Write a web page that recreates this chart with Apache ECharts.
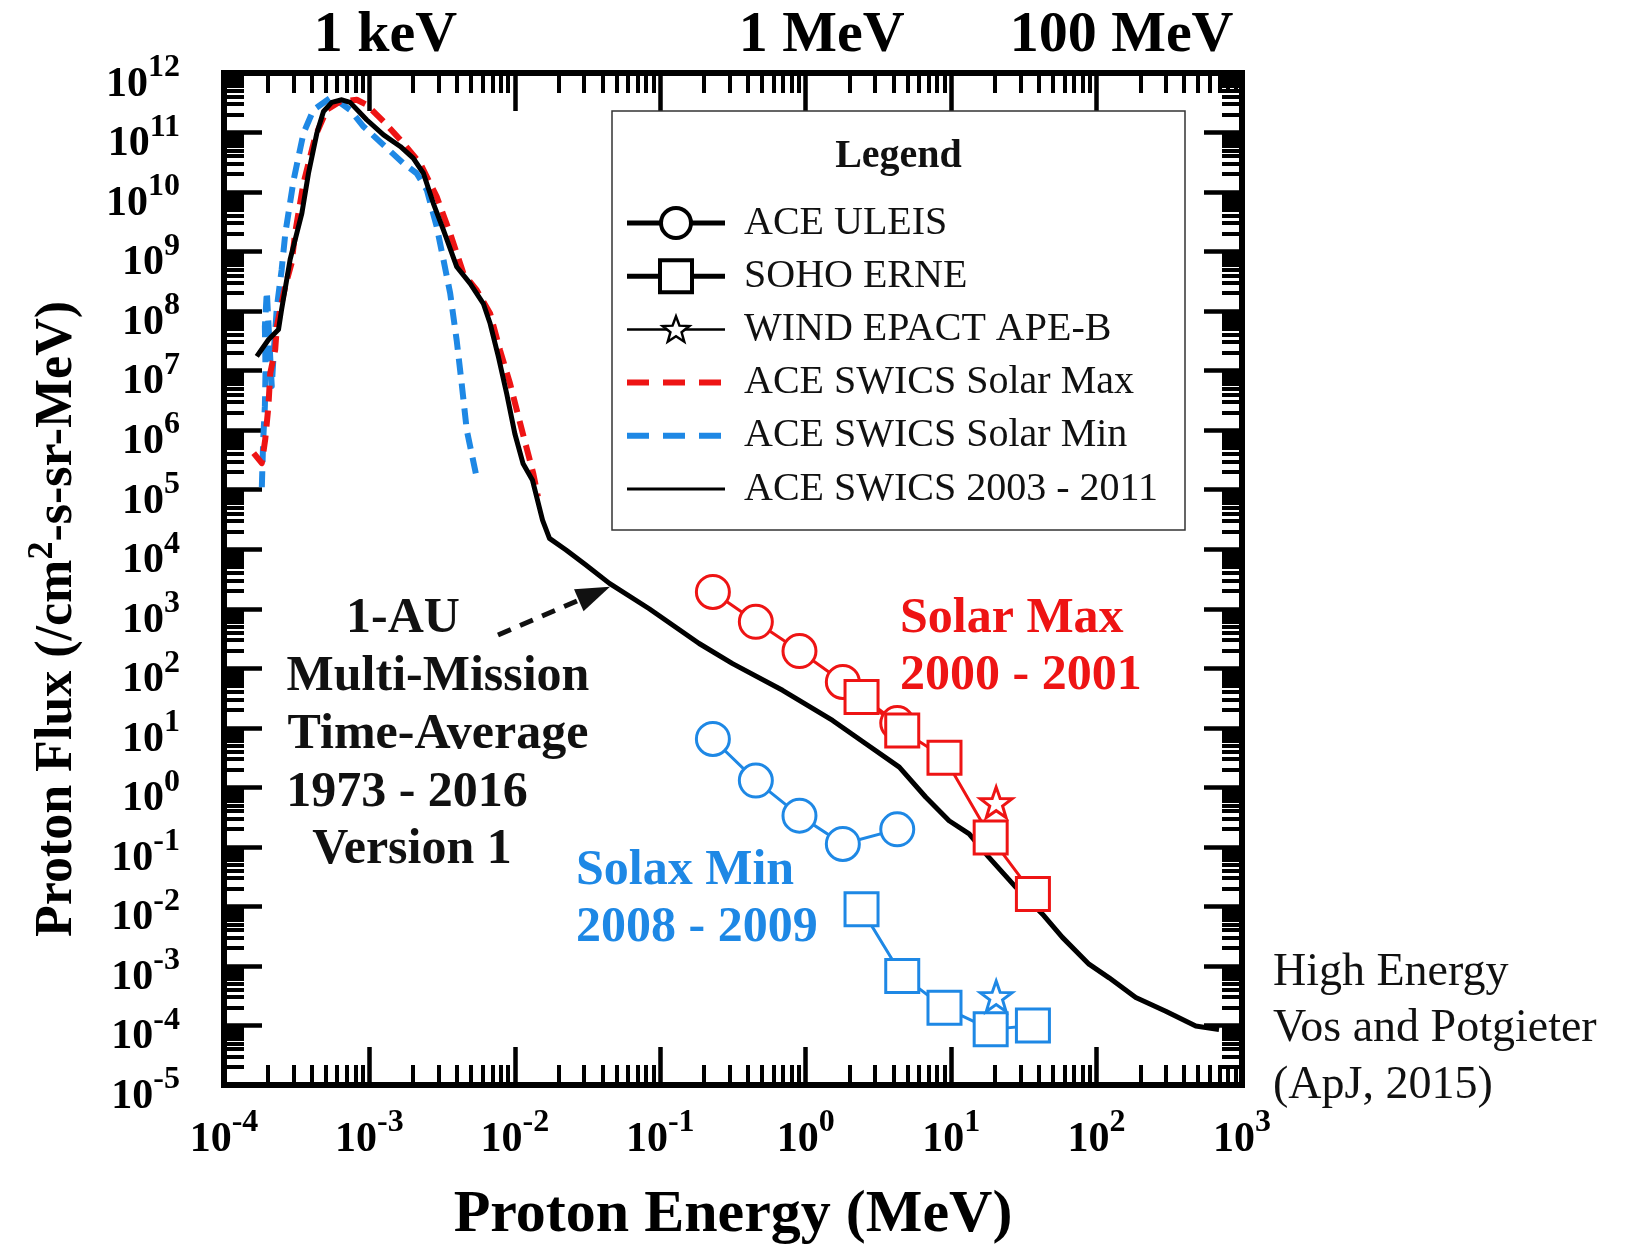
<!DOCTYPE html>
<html>
<head>
<meta charset="utf-8">
<script src="https://cdn.jsdelivr.net/npm/echarts@6/dist/echarts.min.js"></script>
<style>html,body{margin:0;padding:0;background:#fff}#c{width:1625px;height:1246px}</style>
</head>
<body>
<div id="c"></div>
<script>
// ---------------- data ----------------
// ACE SWICS 2003 - 2011 (black solid)
const swicsAvgE = [1.68e-4,2.02e-4,2.37e-4,2.49e-4,2.70e-4,2.85e-4,3.43e-4,3.81e-4,4.35e-4,4.83e-4,5.51e-4,6.46e-4,7.36e-4,9.57e-4,1.25e-3,1.63e-3,2.00e-3,2.35e-3,2.75e-3,3.23e-3,3.98e-3,4.92e-3,6.07e-3,6.76e-3,7.71e-3,8.79e-3,1.00e-2,1.14e-2,1.32e-2,1.55e-2,1.73e-2,2.25e-2,3.08e-2,4.47e-2,8.39e-2,0.185,0.314,0.693,1.53,2.59,4.40,6.70,9.68,13.3,18.2,27.9,42.5,58.2,88.7,122,186,299,481,695];
const swicsAvgF = [1.74e7,3.31e7,4.90e7,1.07e8,3.39e8,7.41e8,4.40e9,2.07e10,9.77e10,2.26e11,3.21e11,3.55e11,3.21e11,1.64e11,9.12e10,5.83e10,3.71e10,2.07e10,6.47e9,2.30e9,5.57e8,2.92e8,1.34e8,6.18e7,1.70e7,4.10e6,8.71e5,2.72e5,1.46e5,3.09e4,1.52e4,9.70e3,5.42e3,2.67e3,1.00e3,2.61e2,1.20e2,42.7,13.3,5.40,2.19,0.682,0.275,0.166,0.0665,0.0209,7.41e-3,3.02e-3,1.07e-3,6.31e-4,2.95e-4,1.74e-4,9.77e-5,8.51e-5];
// ACE SWICS Solar Max (red dashed)
const swicsMaxE = [1.60e-4,1.82e-4,1.92e-4,2.02e-4,2.08e-4,2.25e-4,2.31e-4,2.49e-4,2.64e-4,2.92e-4,3.08e-4,3.52e-4,4.24e-4,5.09e-4,6.30e-4,8.18e-4,9.57e-4,1.25e-3,1.71e-3,2.23e-3,2.90e-3,3.59e-3,4.43e-3,5.47e-3,6.76e-3,7.91e-3,9.27e-3,1.09e-2,1.34e-2,1.44e-2];
const swicsMaxF = [4.12e5,2.79e5,6.92e5,2.51e6,9.12e6,2.26e7,5.57e7,1.38e8,2.63e8,6.50e8,2.02e9,1.41e10,8.59e10,2.42e11,3.33e11,3.55e11,2.93e11,1.54e11,6.64e10,3.05e10,8.39e9,2.02e9,4.30e8,2.25e8,9.12e7,2.20e7,6.04e6,1.28e6,1.85e5,7.66e4];
// ACE SWICS Solar Min (blue dashed)
const swicsMinE = [1.82e-4,1.86e-4,1.91e-4,1.93e-4,1.91e-4,1.97e-4,2.04e-4,2.13e-4,2.21e-4,2.31e-4,2.49e-4,2.64e-4,3.01e-4,3.52e-4,4.12e-4,5.51e-4,7.36e-4,9.10e-4,1.25e-3,1.71e-3,2.11e-3,2.48e-3,2.90e-3,3.23e-3,3.59e-3,3.98e-3,4.31e-3,4.67e-3,5.46e-3];
const swicsMinF = [1.10e5,6.76e5,2.51e6,1.0e7,5.50e7,2.14e8,3.98e7,5.50e6,2.51e7,1.17e8,4.90e8,2.02e9,1.58e10,9.77e10,2.40e11,3.98e11,2.40e11,1.26e11,6.17e10,3.05e10,2.07e10,1.09e10,2.63e9,7.24e8,2.00e8,3.24e7,6.03e6,1.0e6,1.62e5];
// ACE ULEIS (circles)
const uleisE = [0.23, 0.454, 0.906, 1.8, 4.26];
const uleisMaxF = [1920, 603, 195, 59, 12];
const uleisMinF = [6.5, 1.3, 0.335, 0.112, 0.197];
// SOHO ERNE (squares)
const erneE = [2.42, 4.61, 9.0, 18.7, 36.5];
const erneMaxF = [32.9, 9.0, 3.14, 0.144, 0.0162];
const erneMinF = [0.009, 6.8e-4, 1.99e-4, 8.6e-5, 1.0e-4];
// WIND EPACT APE-B (stars)
const epactE = [20.4];
const epactMaxF = [0.56];
const epactMinF = [3.1e-4];
// axis ranges and top-axis energy labels
const xRange = [1e-4, 1e3];
const yRange = [1e-5, 1e12];
const topLabelExp = [-3, 0, 2];
const topLabelText = ['1 keV', '1 MeV', '100 MeV'];
// legend entries
const legendNames = ['ACE ULEIS', 'SOHO ERNE', 'WIND EPACT APE-B', 'ACE SWICS Solar Max', 'ACE SWICS Solar Min', 'ACE SWICS 2003 - 2011'];

// ---------------- styling ----------------
const FONT = '"Liberation Serif", "Times New Roman", serif';
const RED = '#EE1414';
const BLUE = '#1E88E5';
const BLACK = '#000';

function pairs(xs, ys) { return xs.map((x, i) => [x, ys[i]]); }
function expOf(v) { return Math.round(Math.log10(v)); }
function starPoints(cx, cy, R, ratio) {
  const pts = [];
  for (let i = 0; i < 10; i++) {
    const r = i % 2 ? R * ratio : R;
    const a = -Math.PI / 2 + i * Math.PI / 5;
    pts.push([cx + r * Math.cos(a), cy + r * Math.sin(a)]);
  }
  return pts;
}
const starPath = 'path://M' + starPoints(50, 50, 50, 0.4).map(p => p[0].toFixed(2) + ',' + p[1].toFixed(2)).join('L') + 'Z';

// "10" with a raised exponent. Tokens get a tiny height/lineHeight plus padding so the
// label box stays small (no min/max overlap hiding) while the glyphs are shifted.
const tickRich = {
  b: { fontSize: 42, height: 2, lineHeight: 2, fontWeight: 'bold', fontFamily: FONT, color: '#000', padding: [29, 0, 5, 0] },
  s: { fontSize: 32, height: 2, lineHeight: 2, fontWeight: 'bold', fontFamily: FONT, color: '#000', padding: [12, 0, 22, 0] }
};

function frameAxis(pos, range, extra) {
  const base = {
    type: 'log', logBase: 10, min: range[0], max: range[1], interval: 1,
    position: pos,
    axisLine: { show: true, onZero: false, lineStyle: { color: BLACK, width: 6, cap: 'square' } },
    axisTick: { show: true, inside: true, length: 38, lineStyle: { color: BLACK, width: 4.5 } },
    minorTick: { show: true, splitNumber: 9, length: 20, lineStyle: { color: BLACK, width: 4 } },
    splitLine: { show: false },
    minorSplitLine: { show: false },
    axisLabel: { show: false },
    axisPointer: { show: false }
  };
  return Object.assign(base, extra || {});
}

const xAxes = [
  frameAxis('bottom', xRange, {
    axisLabel: {
      show: true, margin: 42, showMinLabel: true, showMaxLabel: true, hideOverlap: false,
      formatter: v => '{b|10}{s|' + expOf(v) + '}',
      rich: tickRich
    },
    name: 'Proton Energy (MeV)', nameLocation: 'middle', nameGap: 100,
    nameTextStyle: { fontSize: 60, fontWeight: 'bold', fontFamily: FONT, color: '#000' }
  }),
  frameAxis('top', xRange, {
    axisLabel: {
      show: true, margin: 8, showMinLabel: true, showMaxLabel: true,
      formatter: v => {
        const i = topLabelExp.indexOf(expOf(v));
        if (i < 0) return '';
        return (i === 2 ? '{c|' : '{k|') + topLabelText[i] + '}';
      },
      rich: {
        k: { fontSize: 58, fontWeight: 'bold', fontFamily: FONT, color: '#000', padding: [0, 0, 0, 32] },
        c: { fontSize: 58, fontWeight: 'bold', fontFamily: FONT, color: '#000', padding: [0, 0, 0, 50] }
      }
    }
  })
];

const yAxes = [
  frameAxis('left', yRange, {
    axisLabel: {
      show: true, margin: 44, showMinLabel: true, showMaxLabel: true, hideOverlap: false,
      formatter: v => '{b|10}{s|' + expOf(v) + '}',
      rich: tickRich
    },
    name: '{t|Proton Flux (/cm}{s|2}{t|-s-sr-MeV)}',
    nameLocation: 'middle', nameRotate: 90, nameGap: 140,
    nameTextStyle: {
      padding: [0, 80, 0, 0],
      rich: {
        t: { fontSize: 52, lineHeight: 52, fontWeight: 'bold', fontFamily: FONT, color: '#000' },
        s: { fontSize: 36, lineHeight: 36, fontWeight: 'bold', fontFamily: FONT, color: '#000', padding: [0, 0, 30, 0] }
      }
    }
  }),
  frameAxis('right', yRange)
];

function markerSeries(name, E, F, color, symbol, size, withLine) {
  return {
    type: withLine ? 'line' : 'scatter',
    name: name,
    data: pairs(E, F),
    symbol: symbol,
    symbolSize: size,
    symbolKeepAspect: true,
    showSymbol: true,
    itemStyle: { color: '#fff', borderColor: color, borderWidth: 3, opacity: 1 },
    lineStyle: { color: color, width: 3 },
    emphasis: { disabled: true },
    silent: true,
    z: 5
  };
}

function curveSeries(name, E, F, color, width, dash) {
  return {
    type: 'line', name: name, data: pairs(E, F),
    symbol: 'none', showSymbol: false, smooth: false,
    lineStyle: { color: color, width: width, type: dash || 'solid', cap: 'butt', join: 'round' },
    emphasis: { disabled: true }, silent: true, z: 3
  };
}

const series = [
  curveSeries('ACE SWICS Solar Min', swicsMinE, swicsMinF, BLUE, 6, [16, 9]),
  curveSeries('ACE SWICS Solar Max', swicsMaxE, swicsMaxF, RED, 6, [16, 9]),
  curveSeries('ACE SWICS 2003 - 2011', swicsAvgE, swicsAvgF, BLACK, 5),
  markerSeries('ACE ULEIS (Solar Max)', uleisE, uleisMaxF, RED, 'circle', 33, true),
  markerSeries('ACE ULEIS (Solar Min)', uleisE, uleisMinF, BLUE, 'circle', 33, true),
  markerSeries('SOHO ERNE (Solar Max)', erneE, erneMaxF, RED, 'rect', 33, true),
  markerSeries('SOHO ERNE (Solar Min)', erneE, erneMinF, BLUE, 'rect', 33, true),
  markerSeries('WIND EPACT APE-B (Solar Max)', epactE, epactMaxF, RED, starPath, 32, false),
  markerSeries('WIND EPACT APE-B (Solar Min)', epactE, epactMinF, BLUE, starPath, 32, false)
];

// ---------------- graphic annotations ----------------
function txt(x, y, text, size, color, weight, align) {
  return {
    type: 'text', x: x, y: y, z: 20, silent: true,
    style: {
      text: text, fontSize: size, fontFamily: FONT, fontWeight: weight || 'normal',
      fill: color, align: align || 'left', verticalAlign: 'middle',
      textAlign: align || 'left', textVerticalAlign: 'middle'
    }
  };
}

const graphics = [];
// legend box
const LG = { x: 612, y: 111, w: 573, h: 419, titleY: 157, row0: 223, rowStep: 53.2, lx1: 627, lx2: 725, sx: 676, tx: 744 };
graphics.push({ type: 'rect', z: 15, silent: true, shape: { x: LG.x, y: LG.y, width: LG.w, height: LG.h }, style: { fill: '#fff', stroke: '#333', lineWidth: 1.5 } });
graphics.push(txt(LG.x + LG.w / 2, LG.titleY, 'Legend', 40, '#111', 'bold', 'center'));
legendNames.forEach((name, i) => {
  const y = LG.row0 + i * LG.rowStep;
  const lineStyles = [
    { stroke: BLACK, lineWidth: 5 },
    { stroke: BLACK, lineWidth: 5 },
    { stroke: BLACK, lineWidth: 2.5 },
    { stroke: RED, lineWidth: 6, lineDash: [22, 14] },
    { stroke: BLUE, lineWidth: 6, lineDash: [22, 14] },
    { stroke: BLACK, lineWidth: 3 }
  ];
  graphics.push({ type: 'line', z: 16, silent: true, shape: { x1: LG.lx1, y1: y, x2: LG.lx2, y2: y }, style: lineStyles[i] });
  if (i === 0) graphics.push({ type: 'circle', z: 17, silent: true, shape: { cx: LG.sx, cy: y, r: 15 }, style: { fill: '#fff', stroke: BLACK, lineWidth: 4 } });
  if (i === 1) graphics.push({ type: 'rect', z: 17, silent: true, shape: { x: LG.sx - 16, y: y - 16, width: 32, height: 32 }, style: { fill: '#fff', stroke: BLACK, lineWidth: 4 } });
  if (i === 2) graphics.push({ type: 'polygon', z: 17, silent: true, shape: { points: starPoints(LG.sx, y + 1, 14, 0.42) }, style: { fill: '#fff', stroke: BLACK, lineWidth: 2.5 } });
  graphics.push(txt(LG.tx, y, name, 40, '#111', 'normal', 'left'));
});

// multi-mission annotation
graphics.push(txt(403, 619, '1-AU', 50, '#111', 'bold', 'center'));
graphics.push(txt(438, 677, 'Multi-Mission', 50, '#111', 'bold', 'center'));
graphics.push(txt(438, 735, 'Time-Average', 50, '#111', 'bold', 'center'));
graphics.push(txt(407, 793, '1973 - 2016', 50, '#111', 'bold', 'center'));
graphics.push(txt(412, 850, 'Version 1', 50, '#111', 'bold', 'center'));
// dashed arrow
const AR = { x0: 498, y0: 635, tx: 610, ty: 586.7, len: 34, half: 12 };
(function () {
  const dx = AR.tx - AR.x0, dy = AR.ty - AR.y0, L = Math.hypot(dx, dy);
  const ux = dx / L, uy = dy / L, nx = -uy, ny = ux;
  const bx = AR.tx - ux * AR.len, by = AR.ty - uy * AR.len;
  graphics.push({ type: 'line', z: 12, silent: true, shape: { x1: AR.x0, y1: AR.y0, x2: bx + ux * 4, y2: by + uy * 4 }, style: { stroke: '#111', lineWidth: 5, lineDash: [14, 10] } });
  graphics.push({ type: 'polygon', z: 12, silent: true, shape: { points: [[AR.tx, AR.ty], [bx + nx * AR.half, by + ny * AR.half], [bx - nx * AR.half, by - ny * AR.half]] }, style: { fill: '#111' } });
})();
// solar max / min labels
graphics.push(txt(900, 619, 'Solar Max', 50, RED, 'bold', 'left'));
graphics.push(txt(900, 676, '2000 - 2001', 50, RED, 'bold', 'left'));
graphics.push(txt(576, 871, 'Solax Min', 50, BLUE, 'bold', 'left'));
graphics.push(txt(576, 928, '2008 - 2009', 50, BLUE, 'bold', 'left'));
// source note
graphics.push(txt(1273, 973, 'High Energy', 46, '#111', 'normal', 'left'));
graphics.push(txt(1273, 1029, 'Vos and Potgieter', 46, '#111', 'normal', 'left'));
graphics.push(txt(1273, 1086, '(ApJ, 2015)', 46, '#111', 'normal', 'left'));

const chart = echarts.init(document.getElementById('c'), null, { renderer: 'canvas', width: 1625, height: 1246 });
chart.setOption({
  backgroundColor: '#fff',
  animation: false,
  grid: { left: 224, right: 383, top: 73, bottom: 161, containLabel: false, outerBoundsMode: 'none' },
  xAxis: xAxes,
  yAxis: yAxes,
  series: series,
  graphic: graphics
});
</script>
</body>
</html>
